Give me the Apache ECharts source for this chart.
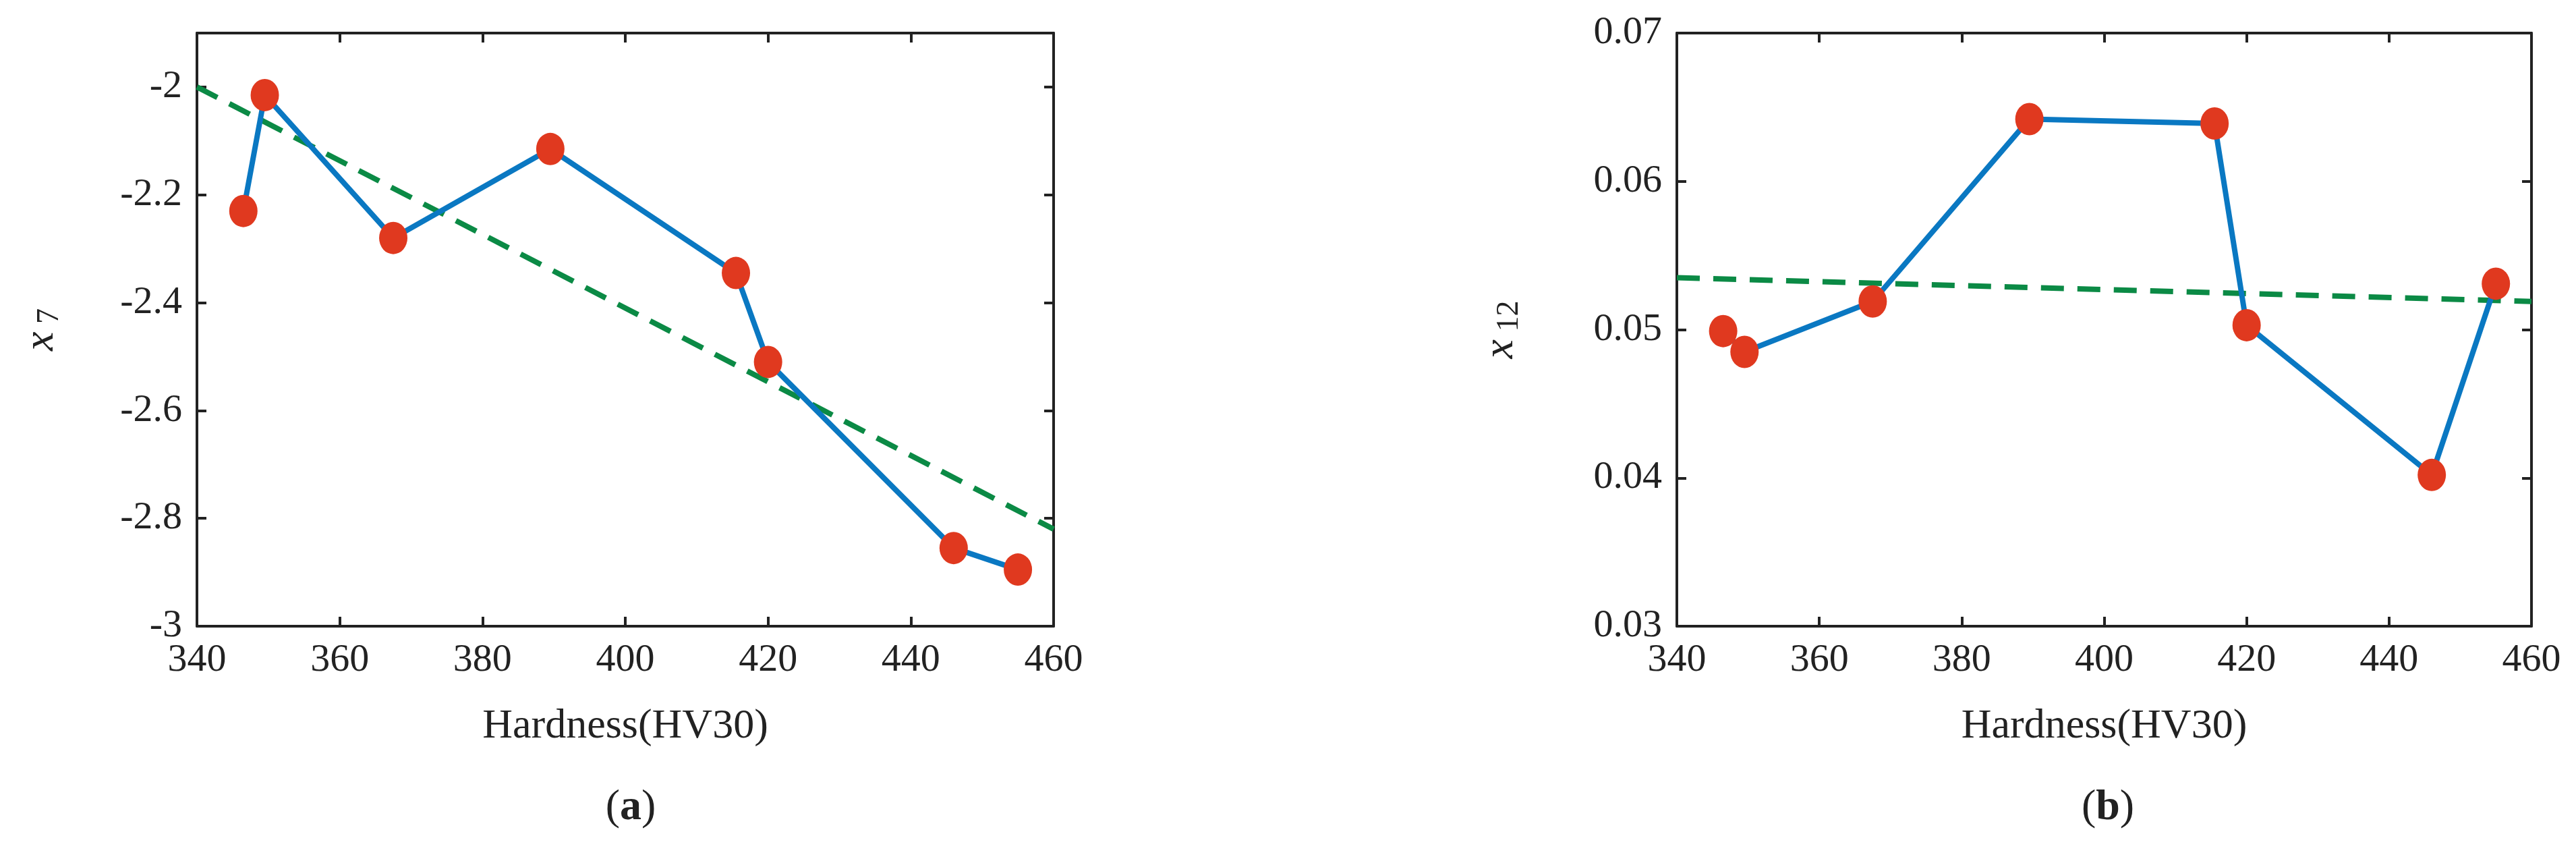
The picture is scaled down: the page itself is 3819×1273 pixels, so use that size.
<!DOCTYPE html>
<html>
<head>
<meta charset="utf-8">
<script src="https://cdn.jsdelivr.net/npm/echarts@6/dist/echarts.min.js"></script>
<style>html,body{margin:0;background:#fff}#c{width:3819px;height:1273px}</style>
</head>
<body>
<div id="c"></div>
<script>
// data
const hardness = [346.5, 349.5, 367.5, 389.5, 415.5, 420, 446, 455];
const x7 = [-2.23, -2.015, -2.28, -2.115, -2.345, -2.51, -2.855, -2.895];
const x12 = [0.0499, 0.0485, 0.0519, 0.0642, 0.0639, 0.0503, 0.0402, 0.0531];
const fitX = [340, 460];
const fit7 = [-2.0, -2.82];
const fit12 = [0.0535, 0.0519];

const FONT = "Liberation Serif";
const chart = echarts.init(document.getElementById("c"));

const xAxisFor = (i) => ([
  {
    gridIndex: i, type: "value", min: 340, max: 460, interval: 20,
    name: "Hardness(HV30)", nameLocation: "middle", nameGap: 118,
    nameTextStyle: { fontFamily: FONT, fontSize: 62, color: "#222" },
    axisLine: { lineStyle: { color: "#222", width: 4 } },
    axisTick: { inside: true, length: 14, lineStyle: { color: "#222", width: 4 } },
    axisLabel: { fontFamily: FONT, fontSize: 58, color: "#222", margin: 22 },
    splitLine: { show: false }
  },
  {
    gridIndex: i, type: "value", min: 340, max: 460, interval: 20, position: "top",
    axisLine: { lineStyle: { color: "#222", width: 4 } },
    axisTick: { inside: true, length: 14, lineStyle: { color: "#222", width: 4 } },
    axisLabel: { show: false }, splitLine: { show: false }
  }
]);

const yAxisFor = (i, min, max, interval, sub, gap) => ([
  {
    gridIndex: i, type: "value", min, max, interval,
    name: "{i|x}{s| " + sub + "}", nameLocation: "middle", nameGap: gap, nameRotate: 90,
    nameTextStyle: {
      rich: {
        i: { fontFamily: FONT, fontStyle: "italic", fontSize: 64, color: "#222" },
        s: { fontFamily: FONT, fontSize: 46, color: "#222", padding: [26, 0, 0, 0] }
      }
    },
    axisLine: { lineStyle: { color: "#222", width: 4 } },
    axisTick: { inside: true, length: 14, lineStyle: { color: "#222", width: 4 } },
    axisLabel: { fontFamily: FONT, fontSize: 58, color: "#222", margin: 22 },
    splitLine: { show: false }
  },
  {
    gridIndex: i, type: "value", min, max, interval, position: "right",
    axisLine: { lineStyle: { color: "#222", width: 4 } },
    axisTick: { inside: true, length: 14, lineStyle: { color: "#222", width: 4 } },
    axisLabel: { show: false }, splitLine: { show: false }
  }
]);

const seriesFor = (i, ys, fit) => ([
  {
    type: "line", xAxisIndex: i * 2, yAxisIndex: i * 2,
    data: fitX.map((x, k) => [x, fit[k]]), symbol: "none",
    lineStyle: { color: "#0b8a45", width: 8, type: [34, 20] }, z: 2
  },
  {
    type: "line", xAxisIndex: i * 2, yAxisIndex: i * 2,
    data: hardness.map((x, k) => [x, ys[k]]),
    symbol: "circle", symbolSize: [42, 48],
    lineStyle: { color: "#0a78c2", width: 8 },
    itemStyle: { color: "#e0391f", borderWidth: 0 }, z: 3
  }
]);

const y7 = yAxisFor(0, -3, -1.9, 0.2, "7", 195);
y7[0].axisLabel.formatter = v => (Math.abs(v + 1.9) < 1e-9 ? "" : String(+v.toFixed(1)));
const y12 = yAxisFor(1, 0.03, 0.07, 0.01, "12", 225);
y12[0].axisLabel.formatter = v => v.toFixed(2);

const caption = (letter, x) => ({
  text: "({b|" + letter + "})", left: x, top: 1160, textAlign: "center",
  textStyle: { fontFamily: FONT, fontSize: 64, fontWeight: "normal", color: "#222",
    rich: { b: { fontFamily: FONT, fontSize: 64, fontWeight: "bold", color: "#222" } } }
});

chart.setOption({
  animation: false,
  backgroundColor: "#fff",
  title: [caption("a", 930), caption("b", 3120)],
  grid: [
    { left: 292, top: 49, width: 1270, height: 879 },
    { left: 2486, top: 49, width: 1267, height: 879 }
  ],
  xAxis: [...xAxisFor(0), ...xAxisFor(1)],
  yAxis: [...y7, ...y12],
  series: [...seriesFor(0, x7, fit7), ...seriesFor(1, x12, fit12)]
});
</script>
</body>
</html>
